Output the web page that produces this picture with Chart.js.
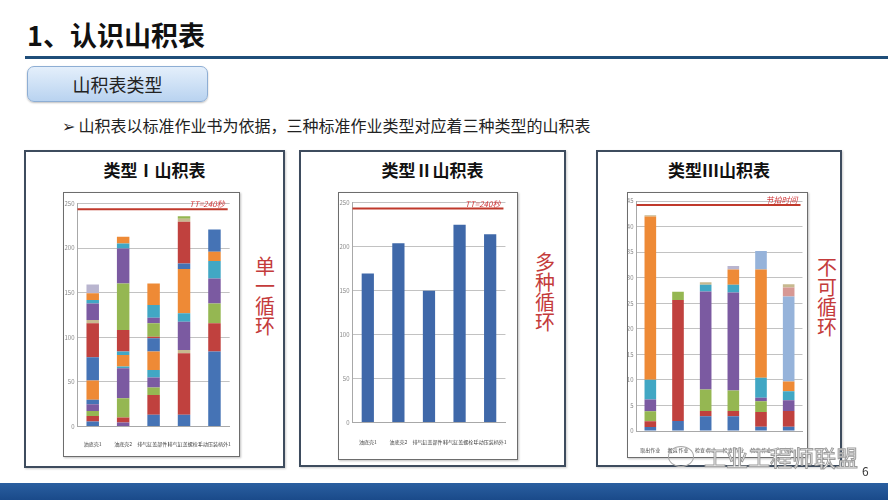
<!DOCTYPE html>
<html>
<head>
<meta charset="utf-8">
<script src="https://cdn.jsdelivr.net/npm/chart.js@4.4.1/dist/chart.umd.min.js"></script>
<style>
  html, body { margin: 0; padding: 0; background: #fff; }
  body { width: 888px; height: 500px; position: relative; overflow: hidden;
         font-family: "Noto Sans CJK SC", "Noto Sans", sans-serif; color: #1a1a1a; }
  .abs { position: absolute; }
  .title { left: 27px; top: 20px; height: 30px; line-height: 30px; font-size: 27px; font-weight: bold; color: #111; }
  .rule { left: 25px; top: 56px; width: 863px; height: 2.5px; background: #1f4e79; }
  .tag { left: 27px; top: 66px; width: 181px; height: 36px; box-sizing: border-box; border: 1px solid #8eaed4;
         border-radius: 7px; background: linear-gradient(#e4effb, #b9d3f0); box-shadow: 0 1px 2px rgba(0,0,0,0.25);
         text-align: center; line-height: 34px; font-size: 18px; color: #222; }
  .bullet { left: 62px; top: 115px; line-height: 20px; font-size: 16px; color: #222; }
  .panel { box-sizing: border-box; border: 2px solid #3e4c5e; background: #fff; box-shadow: 1px 1px 2px rgba(0,0,0,0.2); }
  .ptitle { left: 0; right: 0; top: 7px; text-align: center; font-size: 17px; font-weight: bold; line-height: 22px; color: #111; }
  .frame { box-sizing: border-box; border: 1.5px solid #6d6d6d; background: #fff; box-shadow: 1px 1px 2px rgba(0,0,0,0.25); }
  .frame canvas { position: absolute; left: 0; top: 0; }
  .vtext { width: 24px; text-align: center; font-size: 20px; line-height: 20px; color: #c43b3b; }
  .bottom { left: 0; top: 483px; width: 888px; height: 17px; background: linear-gradient(#2a5fa0, #1a4a8a); }
  .page { left: 862px; top: 462px; font-size: 12px; color: #333; }
  .wm { left: 704px; top: 443px; font-size: 22px; line-height: 26px; color: #fff;
        -webkit-text-stroke: 1px #9c9c9c; }
  .wmicon { left: 668px; top: 446px; width: 26px; height: 21px; box-sizing: border-box; border: 1.5px solid #a8a8a8; border-radius: 50%; }
</style>
</head>
<body>
<div class="abs title">1、认识山积表</div>
<div class="abs rule"></div>
<div class="abs tag">山积表类型</div>
<div class="abs bullet">➢ 山积表以标准作业书为依据，三种标准作业类型对应着三种类型的山积表</div>

<div class="abs panel" style="left:24px;top:150px;width:261px;height:318px;"><div class="abs ptitle">类型Ⅰ山积表</div></div>
<div class="abs panel" style="left:299px;top:150px;width:267px;height:317px;"><div class="abs ptitle">类型Ⅱ山积表</div></div>
<div class="abs panel" style="left:596px;top:150px;width:246px;height:317px;"><div class="abs ptitle">类型Ⅲ山积表</div></div>

<div class="abs frame" style="left:63px;top:192px;width:177px;height:265px;"><canvas id="c1" width="174" height="262"></canvas></div>
<div class="abs frame" style="left:338px;top:192px;width:180px;height:268px;"><canvas id="c2" width="177" height="265"></canvas></div>
<div class="abs frame" style="left:627px;top:192px;width:181px;height:266px;"><canvas id="c3" width="178" height="263"></canvas></div>

<div class="abs vtext" style="left:253px;top:256px;">单<br>一<br>循<br>环</div>
<div class="abs vtext" style="left:533px;top:252px;">多<br>种<br>循<br>环</div>
<div class="abs vtext" style="left:815px;top:257px;">不<br>可<br>循<br>环</div>

<div class="abs wmicon"></div>
<div class="abs wm">工业工程师联盟</div>
<div class="abs page">6</div>
<div class="abs bottom"></div>

<script>
// ---- data ----
const type1Labels = ["油底壳1", "油底壳2", "排气缸盖部件1", "排气缸盖螺栓1", "手动压装柄外1"];
const type1Bar1 = [5.6, 6.3, 5.6, 7.5, 4.9, 21.6, 26.1, 38.1, 3.7, 18.6, 3.8, 7.5, 10.0];
const type1Bar2 = [4.5, 5.6, 21.6, 33.6, 1.9, 13, 3.8, 24.2, 52.2, 39.2, 5.6, 7.5];
const type1Bar3 = [13.1, 22.3, 8.3, 11.2, 8.5, 20.6, 14.9, 1.8, 15, 6.3, 14.2, 24.2];
const type1Bar4 = [13.1, 69, 3.7, 31.7, 9.4, 49.6, 6.3, 46.7, 3.5, 2.8];
const type1Bar5 = [84, 31.7, 22.3, 28, 19.4, 10.5, 25];
const type1TT = 243.5;

const type2Labels = ["油底壳1", "油底壳2", "排气缸盖部件1", "排气缸盖螺栓1", "手动压装柄外1"];
const type2Values = [169.3, 203.8, 149.6, 224.6, 214];
const type2TT = 243.2;

const type3Labels = ["取出作业", "搬运 作业", "检查 作业", "检查 作业", "检查 作业", "包装"];
const type3Bar1 = [0.8, 1.1, 1.95, 2.3, 3.9, 31.9, 0.25];
const type3Bar2 = [1.95, 23.7, 1.6];
const type3Bar3 = [2.9, 1.0, 4.2, 19.2, 1.3, 0.5];
const type3Bar4 = [2.9, 1.0, 4.0, 19.2, 1.5, 3.0, 0.7];
const type3Bar5 = [0.84, 2.86, 2.1, 0.7, 3.9, 21.2, 3.6];
const type3Bar6 = [0.84, 3.06, 2.1, 1.8, 1.9, 16.6, 1.8, 0.6];
const type3TT = 44.2;

const yTicks1 = [0, 50, 100, 150, 200, 250];
const yTicks3 = [0, 5, 10, 15, 20, 25, 30, 35, 40, 45];

// ---- styles ----
const C = { b: "#4573b5", r: "#c0413e", g: "#95b752", p: "#7b5aa1", t: "#41a7c4", o: "#ee8a36",
            lb: "#96b3da", pk: "#d79894", tn: "#c7b98f", lv: "#b9b5cf" };
const type1Colors = [
  ["b", "r", "g", "p", "b", "o", "b", "r", "tn", "p", "t", "o", "lv"],
  ["p", "r", "g", "p", "t", "o", "t", "r", "g", "p", "t", "o"],
  ["b", "r", "g", "p", "t", "o", "b", "r", "g", "p", "t", "o"],
  ["b", "r", "tn", "p", "t", "o", "b", "r", "tn", "g"],
  ["b", "r", "g", "p", "t", "o", "b"]
];
const type3Colors = [
  ["b", "r", "g", "p", "t", "o", "tn"],
  ["b", "r", "g"],
  ["b", "r", "g", "p", "t", "tn"],
  ["b", "r", "g", "p", "t", "o", "lv"],
  ["b", "r", "g", "p", "t", "o", "lb"],
  ["b", "r", "p", "t", "o", "lb", "pk", "tn"]
];

Chart.defaults.font.family = '"Noto Sans CJK SC", "Noto Sans", sans-serif';
Chart.defaults.animation = false;

const taktLine = {
  id: "taktLine",
  afterDatasetsDraw(chart, args, opts) {
    const { ctx, chartArea, scales } = chart;
    const y = scales.y.getPixelForValue(opts.value);
    ctx.save();
    ctx.strokeStyle = "#c0392b";
    ctx.lineWidth = 2;
    ctx.beginPath();
    ctx.moveTo(chartArea.left, y);
    ctx.lineTo(chartArea.right - 2, y);
    ctx.stroke();
    ctx.fillStyle = "#d0383a";
    ctx.font = "italic 8px 'Noto Sans CJK SC'";
    ctx.textAlign = "right";
    ctx.textBaseline = "bottom";
    ctx.fillText(opts.label, chartArea.right - 5, y - 1);
    ctx.restore();
  }
};

function stackSets(bars, colors, pct) {
  const n = Math.max(...bars.map(b => b.length));
  const sets = [];
  for (let i = 0; i < n; i++) {
    sets.push({
      data: bars.map(b => (b[i] === undefined ? null : b[i])),
      backgroundColor: colors.map(c => (c[i] ? C[c[i]] : "transparent")),
      borderWidth: 0,
      categoryPercentage: 1,
      barPercentage: pct,
      stack: "s"
    });
  }
  return sets;
}

function makeOptions(cfg) {
  return {
    responsive: false,
    devicePixelRatio: 1,
    layout: { padding: { left: 0, right: cfg.right, top: cfg.top, bottom: 0 } },
    plugins: {
      legend: { display: false },
      tooltip: { enabled: false },
      taktLine: { value: cfg.tt, label: cfg.ttLabel }
    },
    scales: {
      x: {
        stacked: true,
        grid: { display: false },
        border: { color: "#a8a8a8" },
        ticks: { font: { size: 5 }, color: "#444", maxRotation: 0, minRotation: 0, autoSkip: false, padding: cfg.xPad },
        afterFit: s => { s.height = cfg.bottom; }
      },
      y: {
        stacked: true,
        min: 0,
        max: cfg.max,
        afterBuildTicks: s => { s.ticks = cfg.ticks.map(v => ({ value: v })); },
        grid: { color: "#c2c2c2", drawTicks: false },
        border: { color: "#a8a8a8" },
        ticks: { font: { size: 6 }, color: "#8a8a8a", padding: 3 },
        afterFit: s => { s.width = cfg.left; }
      }
    }
  };
}

new Chart(document.getElementById("c1"), {
  type: "bar",
  data: {
    labels: type1Labels,
    datasets: stackSets([type1Bar1, type1Bar2, type1Bar3, type1Bar4, type1Bar5], type1Colors, 0.41)
  },
  options: makeOptions({ left: 13.5, right: 1.5, top: 10.5, bottom: 28.5, xPad: 7, max: 250, ticks: yTicks1, tt: type1TT, ttLabel: "TT=240秒" }),
  plugins: [taktLine]
});

new Chart(document.getElementById("c2"), {
  type: "bar",
  data: {
    labels: type2Labels,
    datasets: [{ data: type2Values, backgroundColor: "#3f68a9", borderWidth: 0, categoryPercentage: 1, barPercentage: 0.4 }]
  },
  options: makeOptions({ left: 13.5, right: 4.5, top: 9.5, bottom: 35.5, xPad: 9, max: 250, ticks: yTicks1, tt: type2TT, ttLabel: "TT=240秒" }),
  plugins: [taktLine]
});

new Chart(document.getElementById("c3"), {
  type: "bar",
  data: {
    labels: type3Labels,
    datasets: stackSets([type3Bar1, type3Bar2, type3Bar3, type3Bar4, type3Bar5, type3Bar6], type3Colors, 0.42)
  },
  options: makeOptions({ left: 8.5, right: 3.5, top: 8, bottom: 25, xPad: 8, max: 45, ticks: yTicks3, tt: type3TT, ttLabel: "节拍时间" }),
  plugins: [taktLine]
});
</script>
</body>
</html>
